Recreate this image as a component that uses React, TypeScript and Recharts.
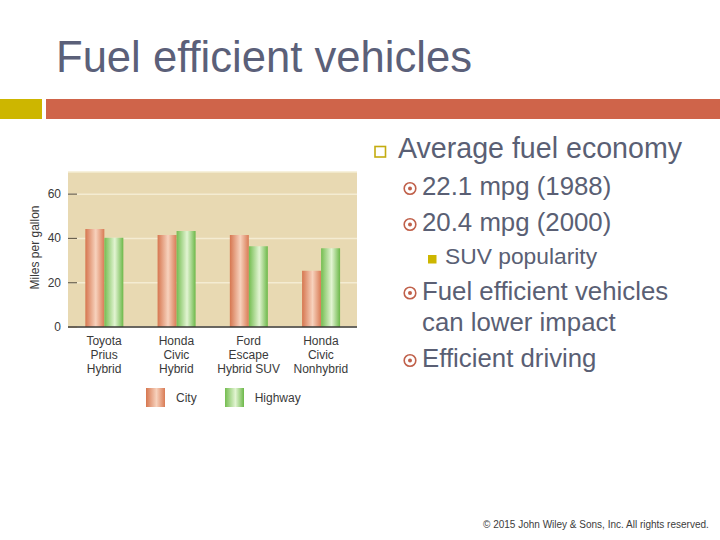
import React from "react";
import { Bar, BarChart, CartesianGrid, XAxis, YAxis } from "recharts";

const categories = [
  "Toyota\nPrius\nHybrid",
  "Honda\nCivic\nHybrid",
  "Ford\nEscape\nHybrid SUV",
  "Honda\nCivic\nNonhybrid",
];
const cityMpg = [44.3, 41.5, 41.5, 25.4];
const highwayMpg = [40.3, 43.4, 36.5, 35.6];
const yTicks = [0, 10, 20, 30, 40, 50, 60];
const series = [
  { key: "city", name: "City", grad: "cityGrad" },
  { key: "highway", name: "Highway", grad: "hwyGrad" },
];

const data = categories.map((name, i) => ({
  name,
  city: cityMpg[i],
  highway: highwayMpg[i],
}));

const FONT = "'Liberation Sans', Arial, sans-serif";
const TEXT = "#5a5f74";
const AXIS = "#3a3a3a";

function YTick({ x, y, payload }: any) {
  const v = payload.value;
  return (
    <g>
      <line x1={x} x2={x + 9} y1={y} y2={y} stroke="#6b6250" strokeWidth={1.2} />
      {v % 20 === 0 && (
        <text x={x - 7} y={y + 4} textAnchor="end" fontSize={12} fill={AXIS} fontFamily={FONT}>
          {v}
        </text>
      )}
    </g>
  );
}

function XTick({ x, y, payload }: any) {
  const lines = String(payload.value).split("\n");
  return (
    <text x={x} y={y + 15.5} textAnchor="middle" fontSize={12} fill={AXIS} fontFamily={FONT}>
      {lines.map((l, i) => (
        <tspan key={i} x={x} dy={i === 0 ? 0 : 14.2}>
          {l}
        </tspan>
      ))}
    </text>
  );
}

function YLabel({ viewBox }: any) {
  const cx = viewBox.x + 7;
  const cy = viewBox.y + viewBox.height / 2 - 2;
  return (
    <text
      x={cx}
      y={cy}
      transform={`rotate(-90 ${cx} ${cy})`}
      textAnchor="middle"
      dominantBaseline="central"
      fontSize={12}
      fill={AXIS}
      fontFamily={FONT}
    >
      Miles per gallon
    </text>
  );
}

function Bullet({ cx, cy }: { cx: number; cy: number }) {
  return (
    <g>
      <circle cx={cx} cy={cy} r={5.8} fill="none" stroke="#c0604a" strokeWidth={1.6} />
      <circle cx={cx} cy={cy} r={2} fill="#c0604a" />
    </g>
  );
}

export default function App() {
  return (
    <div style={{ position: "absolute", left: 0, top: 0, width: 720, height: 540, background: "#fff", overflow: "hidden" }}>
      <svg width={720} height={540} style={{ position: "absolute", left: 0, top: 0 }} fontFamily={FONT}>
        <text x={56} y={72} fontSize={43.6} fill="#5b6079">
          Fuel efficient vehicles
        </text>
        <rect x={0} y={99} width={42} height={20} fill="#cdb600" />
        <rect x={46} y={99} width={674} height={20} fill="#cf644a" />

        <rect x={375} y={146.5} width={10.5} height={10.5} fill="none" stroke="#c4ac10" strokeWidth={1.6} />
        <text x={398} y={158} fontSize={28.6} fill={TEXT}>Average fuel economy</text>

        <Bullet cx={410} cy={188.5} />
        <text x={422} y={195} fontSize={25.8} fill={TEXT}>22.1 mpg (1988)</text>
        <Bullet cx={410} cy={224.5} />
        <text x={422} y={231} fontSize={25.8} fill={TEXT}>20.4 mpg (2000)</text>

        <rect x={428} y={255} width={8.5} height={8.5} fill="#cdb600" />
        <text x={445} y={264} fontSize={22.8} fill={TEXT}>SUV popularity</text>

        <Bullet cx={410} cy={293} />
        <text x={422} y={299.5} fontSize={25.8} fill={TEXT}>Fuel efficient vehicles</text>
        <text x={422} y={330.5} fontSize={25.8} fill={TEXT}>can lower impact</text>
        <Bullet cx={410} cy={360.5} />
        <text x={422} y={367} fontSize={25.8} fill={TEXT}>Efficient driving</text>

        <text x={483} y={527.5} fontSize={10} fill="#3c3c3c">
          © 2015 John Wiley &amp; Sons, Inc. All rights reserved.
        </text>
      </svg>

      <div style={{ position: "absolute", left: 0, top: 0 }}>
        <BarChart
          width={360}
          height={380}
          data={data}
          margin={{ top: 172, right: 3, bottom: 0, left: 28 }}
          barCategoryGap="24%"
          barGap={0}
        >
          <defs>
            <linearGradient id="cityGrad" x1="0" y1="0" x2="1" y2="0">
              <stop offset="0%" stopColor="#d6764f" />
              <stop offset="55%" stopColor="#f7d2bd" />
              <stop offset="100%" stopColor="#d97b55" />
            </linearGradient>
            <linearGradient id="hwyGrad" x1="0" y1="0" x2="1" y2="0">
              <stop offset="0%" stopColor="#74bd50" />
              <stop offset="55%" stopColor="#e2f4d2" />
              <stop offset="100%" stopColor="#6cb849" />
            </linearGradient>
          </defs>
          <CartesianGrid vertical={false} stroke="#f4ecd2" strokeWidth={1.5} fill="#e8d9b2" />
          <XAxis
            dataKey="name"
            height={53}
            tickLine={false}
            tickSize={0}
            tick={<XTick />}
            interval={0}
            axisLine={{ stroke: AXIS, strokeWidth: 1.5 }}
          />
          <XAxis
            xAxisId="top"
            dataKey="name"
            orientation="top"
            height={0}
            tick={false}
            tickLine={false}
            axisLine={{ stroke: AXIS, strokeWidth: 1.5 }}
          />
          <YAxis
            domain={[0, 70]}
            ticks={yTicks}
            width={40}
            tickLine={false}
            tickSize={0}
            tickMargin={0}
            axisLine={false}
            tick={<YTick />}
            label={<YLabel />}
          />
          <YAxis
            yAxisId="right"
            orientation="right"
            domain={[0, 70]}
            width={0}
            tick={false}
            tickLine={false}
            axisLine={{ stroke: AXIS, strokeWidth: 1.5 }}
          />
          {series.map((s) => (
            <Bar key={s.key} dataKey={s.key} name={s.name} fill={`url(#${s.grad})`} isAnimationActive={false} />
          ))}
        </BarChart>
      </div>

      <div style={{ position: "absolute", left: 146, top: 388, display: "flex", fontFamily: FONT, fontSize: 12, color: AXIS }}>
        {series.map((s, i) => (
          <div key={s.key} style={{ display: "flex", alignItems: "center", marginRight: i === 0 ? 28 : 0 }}>
            <svg width={19} height={19} style={{ display: "block" }}>
              <rect x={0} y={0} width={19} height={19} fill={`url(#${s.grad})`} />
            </svg>
            <span style={{ marginLeft: 11 }}>{s.name}</span>
          </div>
        ))}
      </div>
    </div>
  );
}
